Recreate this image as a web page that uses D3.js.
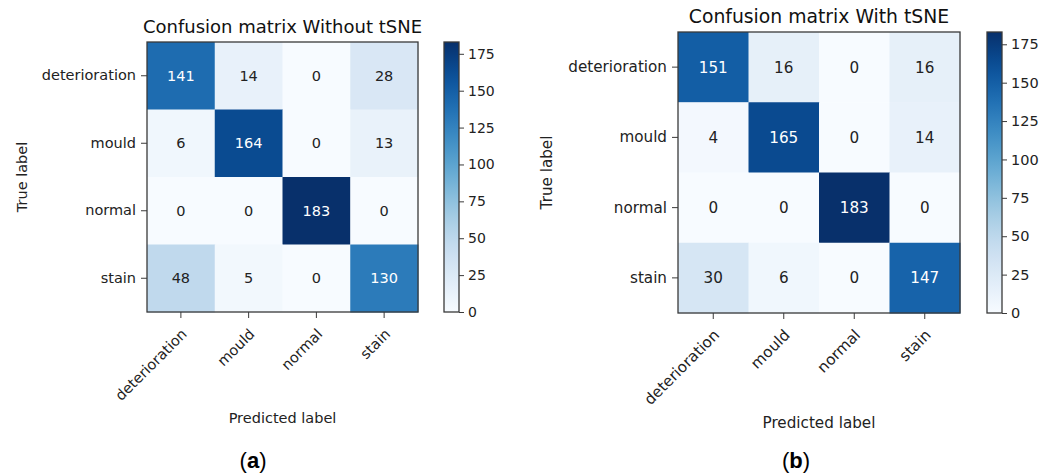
<!DOCTYPE html>
<html>
<head>
<meta charset="utf-8">
<script src="https://cdn.jsdelivr.net/npm/d3@7"></script>
<style>
  html, body { margin: 0; padding: 0; background: #fff; }
  svg { display: block; }
</style>
</head>
<body>
<svg id="chart" width="1046" height="476"></svg>
<script>
// Class names shared by both matrices
const classes = ["deterioration", "mould", "normal", "stain"];

// Confusion matrix without tSNE (rows = true label, cols = predicted label)
const matrixWithout = [
  [141, 14, 0, 28],
  [6, 164, 0, 13],
  [0, 0, 183, 0],
  [48, 5, 0, 130]
];

// Confusion matrix with tSNE
const matrixWith = [
  [151, 16, 0, 16],
  [4, 165, 0, 14],
  [0, 0, 183, 0],
  [30, 6, 0, 147]
];

const colorbarTicks = [0, 25, 50, 75, 100, 125, 150, 175];
const titles = ["Confusion matrix Without tSNE", "Confusion matrix With tSNE"];
const captions = ["a", "b"];

const svg = d3.select("#chart");
const FONT = "DejaVu Sans, sans-serif";
const AXIS_COLOR = "#3a3a3a";

function drawPanel(matrix, title, caption, g) {
  const flat = matrix.flat();
  const vmax = d3.max(flat);
  const color = d3.scaleSequential(d3.interpolateBlues).domain([0, vmax]);

  const x = d3.scaleBand().domain(classes).range([g.left, g.left + g.w]);
  const y = d3.scaleBand().domain(classes).range([g.top, g.top + g.h]);

  const root = svg.append("g");

  // heatmap cells
  const cells = [];
  matrix.forEach((row, i) => row.forEach((v, j) => cells.push({ t: classes[i], p: classes[j], v })));
  root.selectAll("rect.cell").data(cells).enter().append("rect")
    .attr("class", "cell")
    .attr("x", d => x(d.p)).attr("y", d => y(d.t))
    .attr("width", x.bandwidth() + 0.5).attr("height", y.bandwidth() + 0.5)
    .attr("fill", d => color(d.v));

  // value annotations: white on dark cells
  const thresh = vmax / 2;
  root.selectAll("text.val").data(cells).enter().append("text")
    .attr("class", "val")
    .attr("x", d => x(d.p) + x.bandwidth() / 2)
    .attr("y", d => y(d.t) + y.bandwidth() / 2)
    .attr("dy", "0.36em")
    .attr("text-anchor", "middle")
    .attr("font-family", FONT).attr("font-size", g.fs)
    .attr("fill", d => d.v > thresh ? "#fff" : "#222")
    .text(d => d.v);

  // frame
  root.append("rect")
    .attr("x", g.left).attr("y", g.top).attr("width", g.w).attr("height", g.h)
    .attr("fill", "none").attr("stroke", AXIS_COLOR).attr("stroke-width", 1.3);

  // left axis (true label)
  const yAxis = root.append("g")
    .attr("transform", `translate(${g.left},0)`)
    .call(d3.axisLeft(y).tickSize(6).tickPadding(5));
  yAxis.select(".domain").remove();
  yAxis.selectAll("line").attr("stroke", AXIS_COLOR);
  yAxis.selectAll("text").attr("font-family", FONT).attr("font-size", g.fs).attr("fill", "#222");

  // bottom axis (predicted label), rotated labels
  const xAxis = root.append("g")
    .attr("transform", `translate(0,${g.top + g.h})`)
    .call(d3.axisBottom(x).tickSize(6).tickFormat(""));
  xAxis.select(".domain").remove();
  xAxis.selectAll("line").attr("stroke", AXIS_COLOR);
  root.selectAll("text.xt").data(classes).enter().append("text")
    .attr("class", "xt")
    .attr("transform", d => `translate(${x(d) + x.bandwidth() / 2 + 7},${g.top + g.h + 23}) rotate(-45)`)
    .attr("text-anchor", "end")
    .attr("font-family", FONT).attr("font-size", g.fs).attr("fill", "#222")
    .text(d => d);

  // title
  root.append("text")
    .attr("x", g.left + g.w / 2).attr("y", g.top - 9)
    .attr("text-anchor", "middle")
    .attr("font-family", FONT).attr("font-size", g.tfs).attr("fill", "#111")
    .text(title);

  // axis titles
  root.append("text")
    .attr("x", g.left + g.w / 2).attr("y", g.xlabY)
    .attr("text-anchor", "middle")
    .attr("font-family", FONT).attr("font-size", g.fs).attr("fill", "#222")
    .text("Predicted label");
  root.append("text")
    .attr("transform", `translate(${g.ylabX},${g.top + g.h / 2}) rotate(-90)`)
    .attr("text-anchor", "middle")
    .attr("font-family", FONT).attr("font-size", g.fs).attr("fill", "#222")
    .text("True label");

  // colorbar
  const cb = d3.scaleLinear().domain([0, vmax]).range([g.top + g.h, g.top]);
  const gradId = "grad-" + caption;
  const grad = svg.append("defs").append("linearGradient")
    .attr("id", gradId).attr("x1", 0).attr("y1", 1).attr("x2", 0).attr("y2", 0);
  d3.range(0, 1.0001, 0.05).forEach(t => {
    grad.append("stop").attr("offset", t).attr("stop-color", color(t * vmax));
  });
  root.append("rect")
    .attr("x", g.cbX).attr("y", g.top).attr("width", g.cbW).attr("height", g.h)
    .attr("fill", `url(#${gradId})`)
    .attr("stroke", AXIS_COLOR).attr("stroke-width", 1.3);
  const cAxis = root.append("g")
    .attr("transform", `translate(${g.cbX + g.cbW},0)`)
    .call(d3.axisRight(cb).tickValues(colorbarTicks).tickSize(5).tickPadding(4));
  cAxis.select(".domain").remove();
  cAxis.selectAll("line").attr("stroke", AXIS_COLOR);
  cAxis.selectAll("text").attr("font-family", FONT).attr("font-size", g.cfs).attr("fill", "#222");

  // subfigure caption
  const cap = root.append("text")
    .attr("x", g.capX).attr("y", 468)
    .attr("text-anchor", "middle")
    .attr("font-family", "Liberation Sans, Arial, sans-serif").attr("font-size", 22)
    .attr("fill", "#000");
  cap.append("tspan").text("(");
  cap.append("tspan").attr("font-weight", "bold").text(caption);
  cap.append("tspan").text(")");
}

drawPanel(matrixWithout, titles[0], captions[0], {
  left: 147, top: 42, w: 271, h: 270,
  fs: 14.5, tfs: 18, cfs: 14,
  cbX: 444, cbW: 15, ylabX: 27, xlabY: 423, capX: 253
});

drawPanel(matrixWith, titles[1], captions[1], {
  left: 678, top: 32, w: 282, h: 281,
  fs: 15.2, tfs: 18.8, cfs: 14.5,
  cbX: 987, cbW: 15, ylabX: 552, xlabY: 428, capX: 796
});
</script>
</body>
</html>
